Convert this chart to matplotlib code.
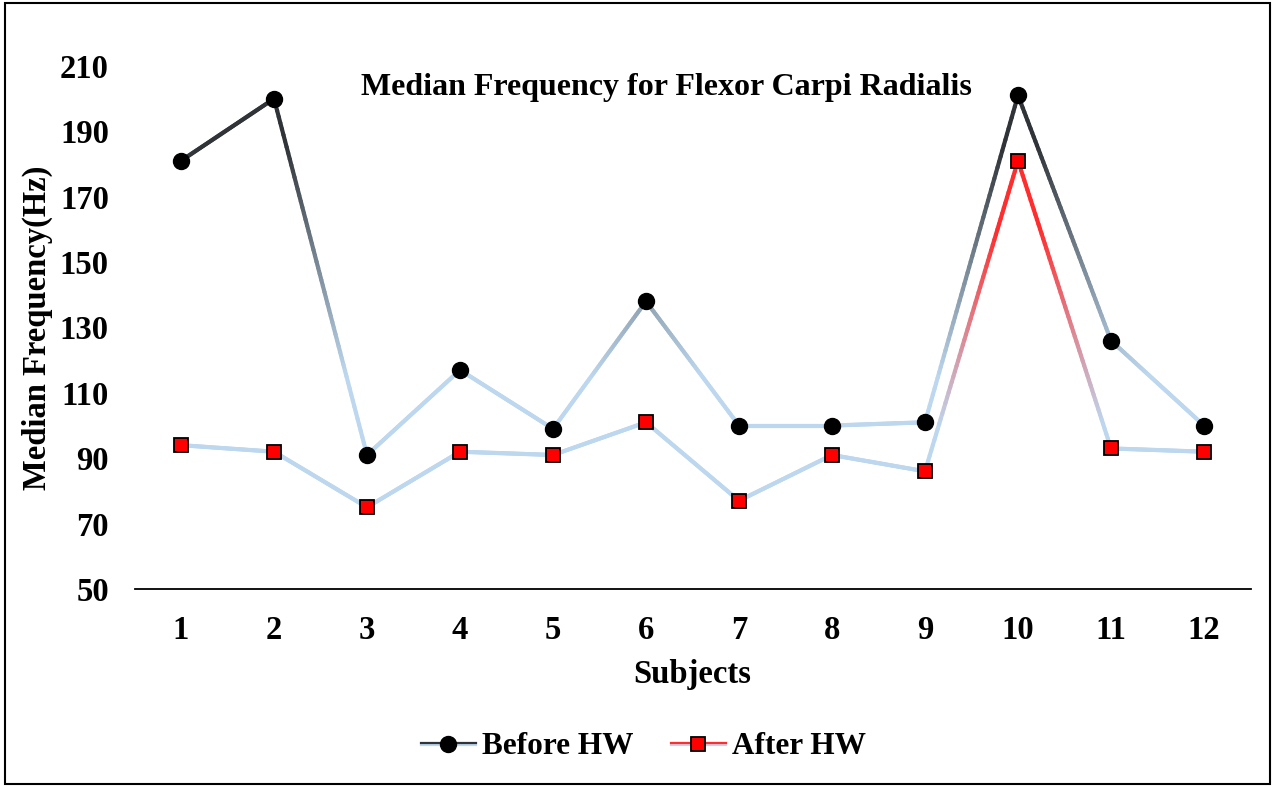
import numpy as np
import matplotlib
matplotlib.use("Agg")
import matplotlib.pyplot as plt
from matplotlib.collections import LineCollection
from matplotlib.lines import Line2D
from matplotlib.legend_handler import HandlerBase
from matplotlib.patches import Rectangle

subjects = [1, 2, 3, 4, 5, 6, 7, 8, 9, 10, 11, 12]
before_hw = [181, 200, 91, 117, 99, 138, 100, 100, 101, 201, 126, 100]
after_hw = [94, 92, 75, 92, 91, 101, 77, 91, 86, 181, 93, 92]

plt.rcParams['font.family'] = ['Liberation Serif', 'DejaVu Serif']
plt.rcParams['font.weight'] = 'bold'

light_blue = np.array([189, 215, 238]) / 255
dark = np.array([48, 52, 56]) / 255
red = np.array([255, 45, 45]) / 255


def gradient_line(ax, x, y, top_color, y_lo, y_hi, lw=3.0):
    # Excel-style gradient: colour depends on height of the line
    segs, cols = [], []
    for i in range(len(x) - 1):
        xs = np.linspace(x[i], x[i + 1], 60)
        ys = np.linspace(y[i], y[i + 1], 60)
        for j in range(len(xs) - 1):
            segs.append([(xs[j], ys[j]), (xs[j + 1], ys[j + 1])])
            ym = (ys[j] + ys[j + 1]) / 2
            t = np.clip((ym - y_lo) / (y_hi - y_lo), 0, 1)
            cols.append(light_blue * (1 - t) + top_color * t)
    lc = LineCollection(segs, colors=cols, linewidths=lw, capstyle='round', zorder=2)
    ax.add_collection(lc)


class GradHandler(HandlerBase):
    # legend line: top half coloured, bottom half light blue
    def __init__(self, top, **mk):
        super().__init__()
        self.top = top
        self.mk = mk

    def create_artists(self, legend, orig_handle, xdescent, ydescent,
                       width, height, fontsize, trans):
        y = height / 2 - ydescent
        x0, x1 = -xdescent, width - xdescent
        low = Line2D([x0, x1], [y - 0.7, y - 0.7], color=light_blue, lw=1.6)
        top = Line2D([x0, x1], [y + 0.7, y + 0.7], color=self.top, lw=1.6)
        m = Line2D([(x0 + x1) / 2], [y], linestyle='none', **self.mk)
        for a in (low, top, m):
            a.set_transform(trans)
        return [low, top, m]


fig = plt.figure(figsize=(12.76, 7.87), dpi=100)
ax = fig.add_axes([134.5 / 1276, 1 - 589 / 787, 1116 / 1276, 523 / 787])

gradient_line(ax, subjects, before_hw, dark, 115, 185)
gradient_line(ax, subjects, after_hw, red, 100, 160)

before_mk = dict(marker='o', markersize=11.5, markerfacecolor='black', markeredgecolor='black')
after_mk = dict(marker='s', markersize=10.5, markerfacecolor='red',
                markeredgecolor='black', markeredgewidth=1.3)
h1, = ax.plot(subjects, before_hw, linestyle='none', zorder=3, **before_mk)
h2, = ax.plot(subjects, after_hw, linestyle='none', zorder=3, **after_mk)

ax.set_xlim(0.5, 12.5)
ax.set_ylim(50, 210)
ax.set_yticks(range(50, 211, 20))
ax.set_xticks(subjects)
ax.tick_params(axis='both', length=0, labelsize=23.5)
ax.tick_params(axis='y', pad=18.5)
ax.tick_params(axis='x', pad=19)
for s in ['top', 'right', 'left']:
    ax.spines[s].set_visible(False)
ax.spines['bottom'].set_linewidth(1.3)

ax.set_xlabel('Subjects', fontsize=23.5, fontweight='bold', labelpad=9)
ax.set_ylabel('Median Frequency(Hz)', fontsize=23.5, fontweight='bold', labelpad=5)
fig.text(666 / 1276, 1 - 88 / 787, 'Median Frequency for Flexor Carpi Radialis',
         fontsize=23, fontweight='bold', ha='center', va='center')

fig.legend([h1, h2], ['Before HW', 'After HW'], loc='center',
           bbox_to_anchor=(643.5 / 1276, 1 - 747 / 787), ncol=2, frameon=False,
           fontsize=22.5, handlelength=1.75, columnspacing=1.2, handletextpad=0.2,
           handler_map={h1: GradHandler(dark, **before_mk),
                        h2: GradHandler(red, **after_mk)})

fig.patches.append(Rectangle((5 / 1276, 3 / 787), 1265 / 1276, 781 / 787,
                             transform=fig.transFigure, fill=False,
                             edgecolor='black', linewidth=1.5))

fig.savefig('out.png', dpi=100)
